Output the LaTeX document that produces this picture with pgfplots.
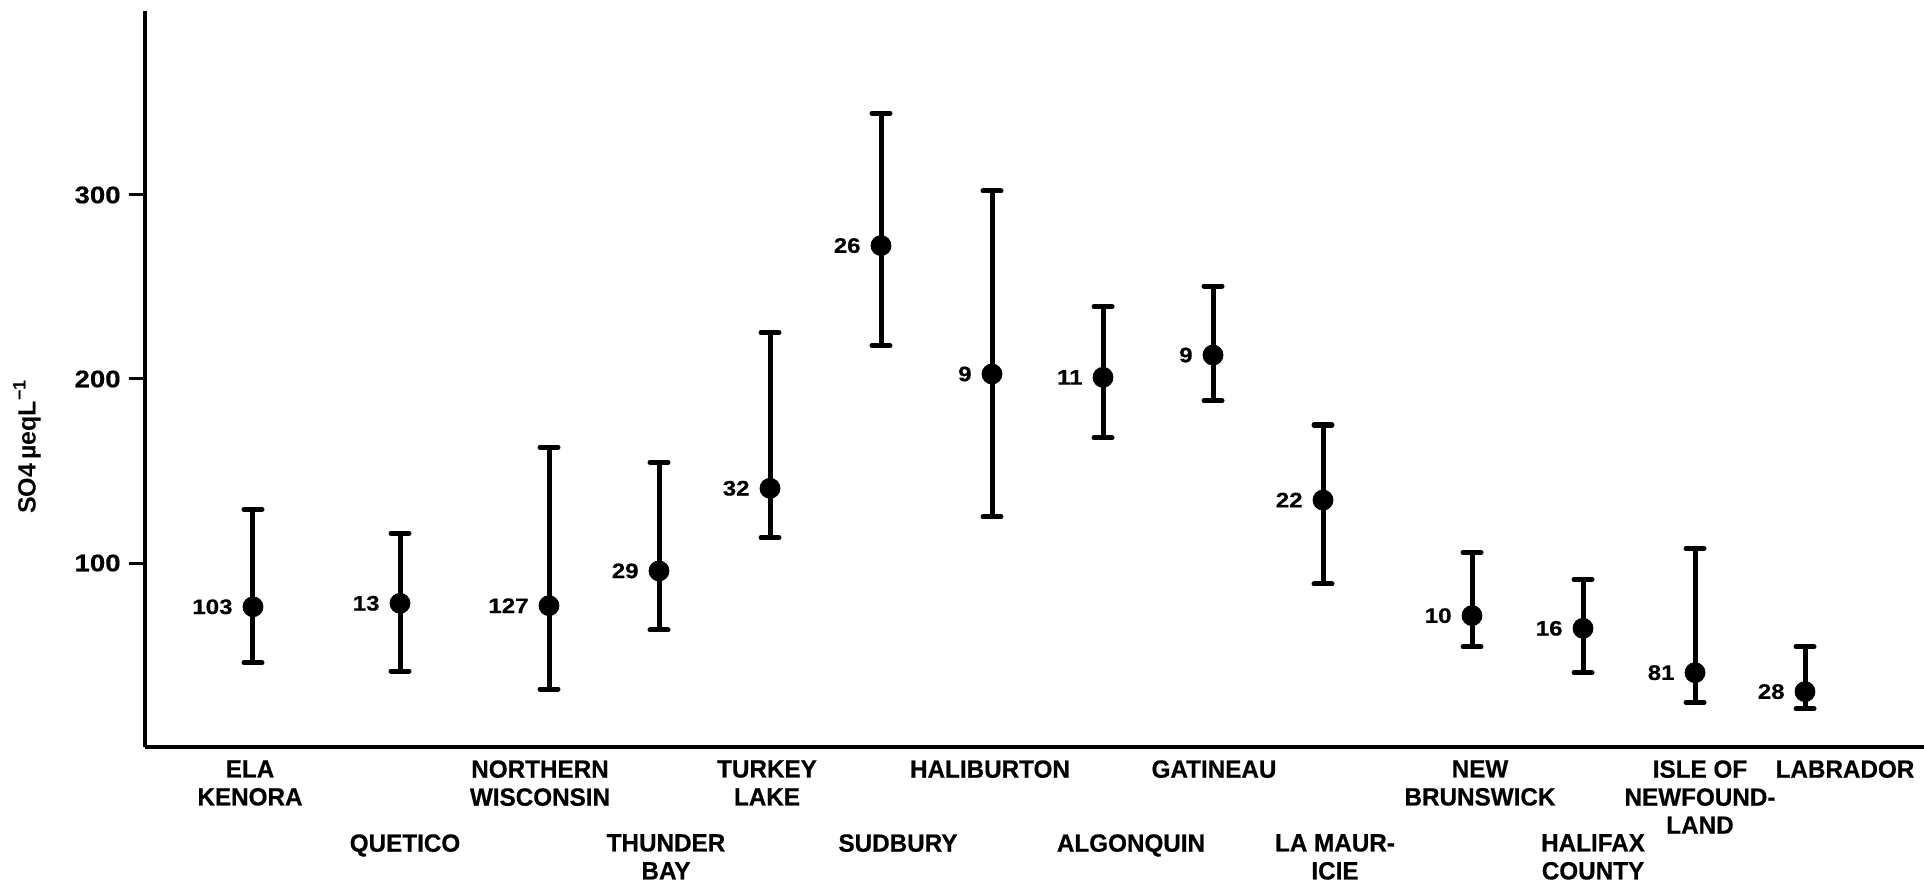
\documentclass[border=0pt]{standalone}
\usepackage{pgfplots}
\pgfplotsset{compat=1.18}
\usepackage{pgfplotstable}
\usepackage{fontspec}
\setmainfont{Liberation Sans}
\newfontfamily\condfont{Liberation Sans}[FakeStretch=0.97, FakeBold=0.5]
\newfontfamily\widefont{Liberation Sans}[FakeStretch=1.15, FakeBold=0.5]

\tikzset{catlab/.style={anchor=north, align=center, inner sep=0pt,
    font=\condfont\bfseries\fontsize{12.5bp}{14bp}\selectfont}}

% x in pixel units of the original figure, y in ueq/L
\pgfplotstableread{
x     y      ep    em    n
253   76.2   53.0  30.4  103
400   78.1   38.0  36.8  13
549   76.8   86.1  45.3  127
659   95.7   59.0  32.1  29
770   140.6  84.6  26.8  32
881   272.5  71.9  54.4  26
992   202.7  99.5  77.5  9
1103  200.9  38.4  32.8  11
1213  213.0  37.5  24.8  9
1323  134.2  40.8  45.6  22
1472  71.4   34.4  16.9  10
1583  64.5   26.6  24.1  16
1695  40.4   67.6  16.1  81
1805  30.1   24.4  9.4   28
}\sulfate

\begin{document}
\begin{tikzpicture}
\useasboundingbox (-72.5bp,-69.5bp) rectangle (889.5bp,373.5bp);
\begin{axis}[
  at={(0bp,0bp)}, anchor=south west,
  scale only axis,
  width=889.5bp, height=368bp,
  xmin=145, xmax=1924,
  ymin=0, ymax=400,
  axis x line*=bottom, axis y line*=left,
  axis line style={-, line width=2bp, black},
  xtick=\empty,
  ytick={100,200,300},
  ytick pos=left,
  major tick length=0pt,
  /pgf/number format/assume math mode=true,
  yticklabel style={font=\widefont\bfseries\fontsize{12bp}{12bp}\selectfont, inner sep=0pt, anchor=east, xshift=-12bp},
  clip=false,
]
\addplot[only marks, mark=*, mark size=5bp, black,
  error bars/.cd, y dir=both, y explicit,
  error bar style={line width=2.5bp, black},
  error mark=|,
  error mark options={line width=2.5bp, mark size=4.5bp, line cap=round, black},
  ] table[x=x, y=y, y error plus=ep, y error minus=em] {\sulfate};

\addplot[only marks, mark=none,
  nodes near coords, point meta=explicit symbolic,
  nodes near coords style={anchor=east, inner sep=0pt, xshift=-10bp,
    font=\widefont\bfseries\fontsize{10.5bp}{10.5bp}\selectfont}]
  table[x=x, y=y, meta=n] {\sulfate};

% y-axis tick strokes
\draw[line width=1.5bp] (axis cs:145,100) -- ++(-8bp,0pt);
\draw[line width=1.5bp] (axis cs:145,200) -- ++(-8bp,0pt);
\draw[line width=1.5bp] (axis cs:145,300) -- ++(-8bp,0pt);

\node[rotate=90, inner sep=0pt, font=\bfseries\fontsize{12.5bp}{12.5bp}\selectfont]
  at (axis cs:27,163) {SO4\,µeqL\raisebox{0.75ex}{\fontsize{9bp}{9bp}\selectfont −1}};

\node[catlab] at (axis cs:250,-7) {ELA\\KENORA};
\node[catlab] at (axis cs:405,-47.2) {QUETICO};
\node[catlab] at (axis cs:540,-7) {NORTHERN\\WISCONSIN};
\node[catlab] at (axis cs:666,-47.2) {THUNDER\\BAY};
\node[catlab] at (axis cs:767,-7) {TURKEY\\LAKE};
\node[catlab] at (axis cs:898,-47.2) {SUDBURY};
\node[catlab] at (axis cs:990,-7) {HALIBURTON};
\node[catlab] at (axis cs:1131,-47.2) {ALGONQUIN};
\node[catlab] at (axis cs:1214,-7) {GATINEAU};
\node[catlab] at (axis cs:1335,-47.2) {LA MAUR-\\ICIE};
\node[catlab] at (axis cs:1480,-7) {NEW\\BRUNSWICK};
\node[catlab] at (axis cs:1593,-47.2) {HALIFAX\\COUNTY};
\node[catlab] at (axis cs:1700,-7) {ISLE OF\\NEWFOUND-\\LAND};
\node[catlab] at (axis cs:1845,-7) {LABRADOR};
\end{axis}
\end{tikzpicture}
\end{document}
